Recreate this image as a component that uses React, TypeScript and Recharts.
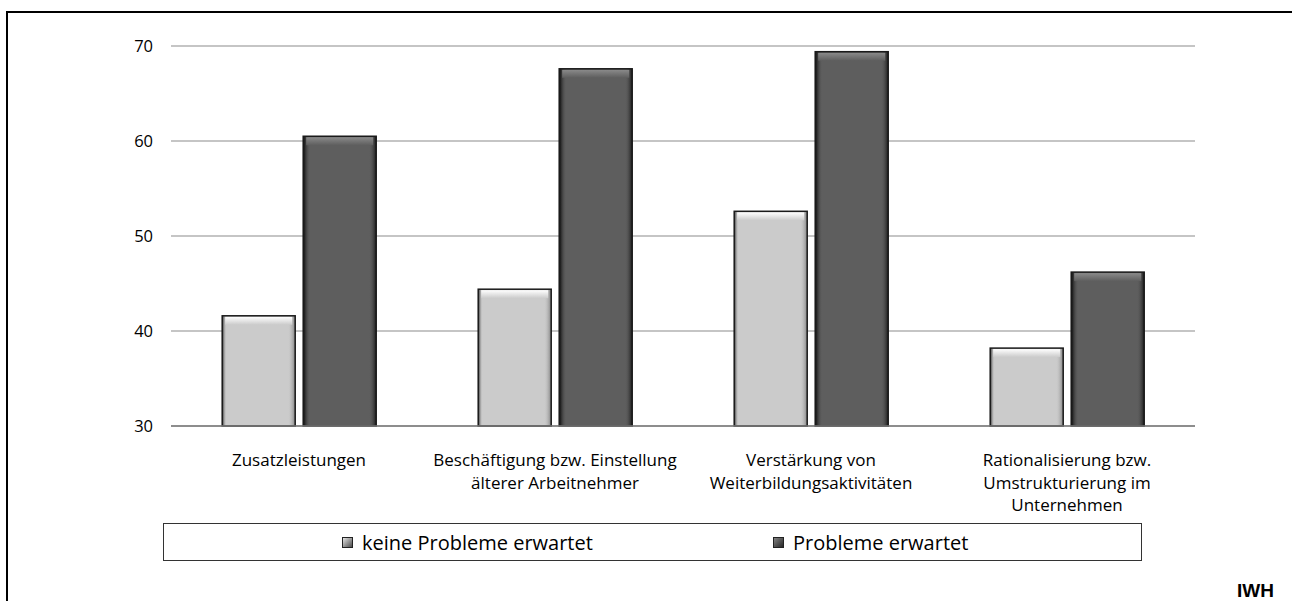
import { Bar, BarChart, CartesianGrid, XAxis, YAxis } from "recharts";

const categories = [
  "Zusatzleistungen",
  "Beschäftigung bzw. Einstellung\nälterer Arbeitnehmer",
  "Verstärkung von\nWeiterbildungsaktivitäten",
  "Rationalisierung bzw.\nUmstrukturierung im\nUnternehmen",
];
const keineProbleme = [41.6, 44.4, 52.6, 38.2];
const probleme = [60.5, 67.6, 69.4, 46.2];
const yTicks = [30, 40, 50, 60, 70];

const data = categories.map((c, i) => ({ cat: c, keine: keineProbleme[i], probleme: probleme[i] }));

const FONT = "'Open Sans', Lato, sans-serif";

function BevelBar(props: any) {
  const { x, y, width, height, tone } = props;
  if (!height || height <= 0) return null;
  const light = tone === "light";
  const base = light ? "#cbcbcb" : "#5e5e5e";
  const top = Math.min(8, height / 2);
  return (
    <g>
      <rect x={x} y={y} width={width} height={height} fill={base} />
      <rect x={x} y={y} width={width} height={height} fill={light ? "url(#sideLight)" : "url(#sideDark)"} />
      <rect x={x + 3} y={y + 1} width={width - 6} height={top} fill={light ? "url(#topLight)" : "url(#topDark)"} />
      <rect x={x} y={y} width={width} height={height} fill="none" stroke="#1a1a1a" strokeWidth={1.5} />
    </g>
  );
}

function CatTick({ x, y, payload }: any) {
  const lines = String(payload.value).split("\n");
  return (
    <text x={x} y={y + 32} textAnchor="middle" fill="#000" fontSize={17} fontFamily={FONT}>
      {lines.map((l, i) => (
        <tspan key={i} x={x} dy={i === 0 ? 0 : 22.5}>{l}</tspan>
      ))}
    </text>
  );
}

function Swatch({ dark }: { dark: boolean }) {
  return (
    <svg width={11} height={11} style={{ marginRight: 9, verticalAlign: "middle" }}>
      <defs>
        <linearGradient id={dark ? "swD" : "swL"} x1="0" y1="0" x2="1" y2="1">
          <stop offset="0" stopColor={dark ? "#888" : "#eee"} />
          <stop offset="1" stopColor={dark ? "#222" : "#444"} />
        </linearGradient>
      </defs>
      <rect x={0.5} y={0.5} width={10} height={10} fill={`url(#${dark ? "swD" : "swL"})`} stroke="#222" />
    </svg>
  );
}

export default function App() {
  return (
    <div style={{ position: "absolute", left: 0, top: 0, width: 1292, height: 601, background: "#fff", overflow: "hidden" }}>
      <div style={{ position: "absolute", left: 6, top: 11, width: 1300, height: 600, borderTop: "2.5px solid #000", borderLeft: "2.5px solid #000" }} />
      <BarChart
        width={1292}
        height={601}
        data={data}
        margin={{ top: 46, right: 97, left: 111, bottom: 75 }}
        barCategoryGap="20%"
        barGap={8}
        style={{ position: "absolute", left: 0, top: 0 }}
      >
        <defs>
          <linearGradient id="sideLight" x1="0" y1="0" x2="1" y2="0">
            <stop offset="0" stopColor="#111" stopOpacity={0.9} />
            <stop offset="0.06" stopColor="#cbcbcb" stopOpacity={0} />
            <stop offset="0.9" stopColor="#cbcbcb" stopOpacity={0} />
            <stop offset="1" stopColor="#777" stopOpacity={0.9} />
          </linearGradient>
          <linearGradient id="sideDark" x1="0" y1="0" x2="1" y2="0">
            <stop offset="0" stopColor="#000" stopOpacity={0.95} />
            <stop offset="0.1" stopColor="#5e5e5e" stopOpacity={0} />
            <stop offset="0.9" stopColor="#5e5e5e" stopOpacity={0} />
            <stop offset="1" stopColor="#111" stopOpacity={0.9} />
          </linearGradient>
          <linearGradient id="topLight" x1="0" y1="0" x2="0" y2="1">
            <stop offset="0" stopColor="#fff" />
            <stop offset="1" stopColor="#cbcbcb" />
          </linearGradient>
          <linearGradient id="topDark" x1="0" y1="0" x2="0" y2="1">
            <stop offset="0" stopColor="#8a8a8a" />
            <stop offset="1" stopColor="#5e5e5e" />
          </linearGradient>
        </defs>
        <CartesianGrid vertical={false} stroke="#8c8c8c" strokeWidth={1.2} />
        <XAxis
          dataKey="cat"
          axisLine={{ stroke: "#7a7a7a", strokeWidth: 1.5 }}
          tickLine={false}
          height={100}
          interval={0}
          tick={<CatTick />}
        />
        <YAxis
          domain={[30, 70]}
          ticks={yTicks}
          axisLine={false}
          tickLine={false}
          width={60}
          tickMargin={12}
          tick={{ fill: "#000", fontSize: 16.5, fontFamily: FONT }}
        />
        <Bar dataKey="keine" isAnimationActive={false} shape={(p: any) => <BevelBar {...p} tone="light" />} />
        <Bar dataKey="probleme" isAnimationActive={false} shape={(p: any) => <BevelBar {...p} tone="dark" />} />
      </BarChart>
      <div
        style={{
          position: "absolute",
          left: 163,
          top: 523,
          width: 977,
          height: 36,
          border: "1.5px solid #333",
          fontFamily: FONT,
          fontSize: 20,
          display: "flex",
          alignItems: "center",
          color: "#000",
        }}
      >
        <span style={{ position: "absolute", left: 178, display: "flex", alignItems: "center" }}>
          <Swatch dark={false} />keine Probleme erwartet
        </span>
        <span style={{ position: "absolute", left: 609, display: "flex", alignItems: "center" }}>
          <Swatch dark={true} />Probleme erwartet
        </span>
      </div>
      <div style={{ position: "absolute", left: 1237, top: 580, fontFamily: "'Liberation Sans', Arial, sans-serif", fontWeight: "bold", fontSize: 19 }}>
        IWH
      </div>
    </div>
  );
}
